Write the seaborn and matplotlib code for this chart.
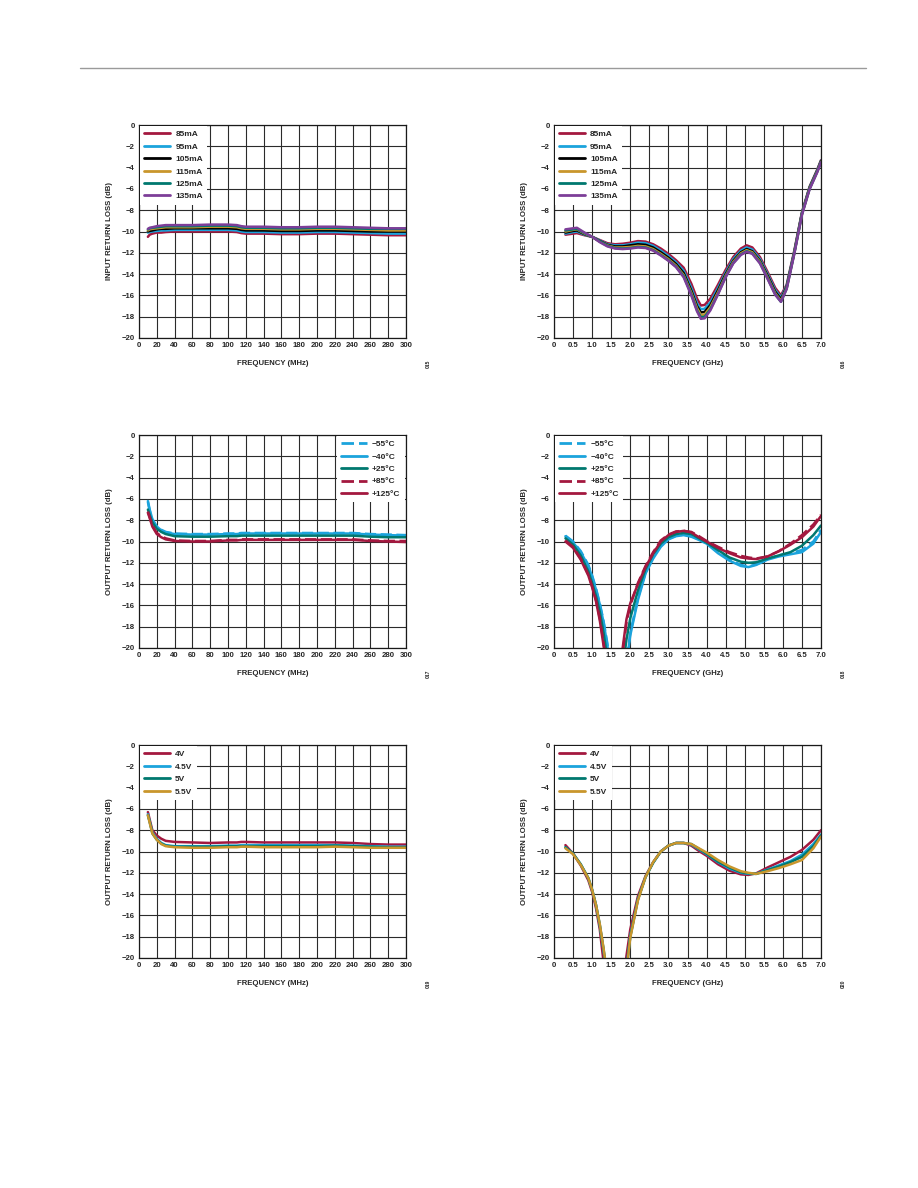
import numpy as np
import pandas as pd
import seaborn as sns
import matplotlib.pyplot as plt
from matplotlib.lines import Line2D

# ---- data ----
MHZ = [10, 12, 15, 20, 25, 30, 40, 60, 80, 100, 110, 115, 120, 140, 160, 180, 200, 220, 240, 260, 280, 300]
GHZ_IN = [0.3, 0.5, 0.6, 0.8, 1.0, 1.2, 1.4, 1.6, 1.8, 2.0, 2.2, 2.4, 2.6, 2.8, 3.0, 3.2, 3.4, 3.6, 3.75,
          3.85, 3.95, 4.1, 4.3, 4.5, 4.7, 4.9, 5.05, 5.2, 5.4, 5.6, 5.8, 5.95, 6.1, 6.3, 6.5, 6.7, 6.9, 7.0]
GHZ_OUT = [0.3, 0.5, 0.7, 0.9, 1.0, 1.1, 1.2, 1.3, 1.4, 1.5, 1.7, 1.8, 1.9, 2.0, 2.2, 2.4, 2.6, 2.8, 3.0,
           3.2, 3.4, 3.6, 3.8, 4.0, 4.3, 4.6, 4.9, 5.1, 5.3, 5.6, 5.9, 6.2, 6.5, 6.8, 7.0]

bias_labels = ['85mA', '95mA', '105mA', '115mA', '125mA', '135mA']
temp_labels = ['\u221255°C', '\u221240°C', '+25°C', '+85°C', '+125°C']
volt_labels = ['4V', '4.5V', '5V', '5.5V']

# input return loss vs bias, MHz
irl_mhz_85 = [-10.5, -10.3, -10.2, -10.1, -10.1, -10.05, -10.0, -10.0, -10.0, -10.0, -10.05, -10.15, -10.2, -10.2, -10.25, -10.25, -10.2, -10.2, -10.25, -10.3, -10.35, -10.35]
irl_mhz_95 = [-10.1, -10.05, -10.0, -9.95, -9.9, -9.9, -9.85, -9.85, -9.85, -9.85, -9.9, -10.0, -10.05, -10.05, -10.1, -10.1, -10.05, -10.05, -10.1, -10.15, -10.2, -10.2]
irl_mhz_105 = [-10.0, -9.95, -9.9, -9.8, -9.75, -9.75, -9.7, -9.7, -9.7, -9.7, -9.75, -9.85, -9.9, -9.9, -9.95, -9.95, -9.9, -9.9, -9.95, -10.0, -10.0, -10.0]
irl_mhz_115 = [-9.9, -9.8, -9.75, -9.7, -9.65, -9.6, -9.6, -9.6, -9.55, -9.55, -9.6, -9.7, -9.75, -9.75, -9.8, -9.8, -9.75, -9.75, -9.8, -9.85, -9.9, -9.9]
irl_mhz_125 = [-9.8, -9.7, -9.65, -9.6, -9.55, -9.5, -9.5, -9.5, -9.45, -9.45, -9.5, -9.6, -9.65, -9.65, -9.7, -9.7, -9.65, -9.65, -9.7, -9.75, -9.75, -9.75]
irl_mhz_135 = [-9.75, -9.65, -9.6, -9.5, -9.45, -9.4, -9.4, -9.4, -9.35, -9.35, -9.4, -9.5, -9.55, -9.55, -9.6, -9.6, -9.55, -9.55, -9.6, -9.65, -9.7, -9.7]

# input return loss vs bias, GHz
irl_ghz_85 = [-10.3, -10.2, -10.15, -10.35, -10.5, -10.8, -11.1, -11.2, -11.15, -11.05, -10.9, -10.95, -11.2, -11.6, -12.1, -12.7, -13.4, -14.9, -16.3, -16.95, -16.9, -16.3, -15.0, -13.6, -12.4, -11.6, -11.3, -11.5, -12.4, -13.8, -15.3, -16.0, -15.0, -11.8, -8.2, -5.8, -4.2, -3.3]
irl_ghz_95 = [-10.2, -10.05, -10.0, -10.3, -10.5, -10.85, -11.2, -11.3, -11.3, -11.2, -11.05, -11.1, -11.35, -11.8, -12.3, -12.9, -13.7, -15.3, -16.75, -17.3, -17.25, -16.65, -15.3, -13.85, -12.6, -11.8, -11.5, -11.7, -12.6, -14.0, -15.5, -16.2, -15.1, -11.9, -8.25, -5.85, -4.25, -3.35]
irl_ghz_105 = [-10.1, -9.95, -9.9, -10.25, -10.5, -10.9, -11.25, -11.4, -11.4, -11.3, -11.2, -11.25, -11.5, -11.95, -12.45, -13.05, -13.9, -15.55, -17.0, -17.6, -17.55, -16.9, -15.5, -14.0, -12.75, -11.95, -11.65, -11.85, -12.75, -14.15, -15.65, -16.35, -15.2, -11.95, -8.3, -5.9, -4.3, -3.4]
irl_ghz_115 = [-10.0, -9.85, -9.8, -10.2, -10.5, -10.95, -11.3, -11.5, -11.5, -11.45, -11.35, -11.4, -11.65, -12.1, -12.6, -13.2, -14.1, -15.75, -17.2, -17.85, -17.8, -17.1, -15.7, -14.15, -12.85, -12.05, -11.75, -11.95, -12.85, -14.3, -15.8, -16.5, -15.3, -12.0, -8.35, -5.95, -4.35, -3.45]
irl_ghz_125 = [-9.9, -9.8, -9.75, -10.15, -10.5, -10.95, -11.35, -11.55, -11.6, -11.55, -11.45, -11.5, -11.75, -12.2, -12.7, -13.3, -14.2, -15.9, -17.4, -18.05, -18.0, -17.3, -15.85, -14.25, -12.95, -12.15, -11.85, -12.05, -12.95, -14.4, -15.9, -16.6, -15.35, -12.05, -8.4, -6.0, -4.4, -3.5]
irl_ghz_135 = [-9.8, -9.7, -9.65, -10.1, -10.5, -11.0, -11.4, -11.6, -11.65, -11.6, -11.5, -11.55, -11.8, -12.25, -12.75, -13.35, -14.3, -16.0, -17.5, -18.2, -18.15, -17.4, -15.9, -14.3, -13.0, -12.2, -11.9, -12.1, -13.0, -14.45, -15.95, -16.6, -15.4, -12.1, -8.45, -6.05, -4.45, -3.5]

# output return loss vs temperature, MHz
orl_mhz_m55 = [-6.3, -7.1, -8.0, -8.6, -8.9, -9.1, -9.25, -9.3, -9.3, -9.25, -9.25, -9.2, -9.2, -9.2, -9.2, -9.2, -9.2, -9.2, -9.2, -9.3, -9.35, -9.4]
orl_mhz_m40 = [-6.2, -7.0, -7.9, -8.6, -8.95, -9.15, -9.3, -9.35, -9.35, -9.3, -9.3, -9.25, -9.25, -9.25, -9.25, -9.25, -9.25, -9.25, -9.25, -9.35, -9.4, -9.45]
orl_mhz_p25 = [-7.0, -7.5, -8.2, -8.8, -9.1, -9.3, -9.5, -9.55, -9.55, -9.5, -9.5, -9.45, -9.45, -9.45, -9.45, -9.45, -9.45, -9.45, -9.45, -9.55, -9.6, -9.6]
orl_mhz_p85 = [-7.2, -7.7, -8.5, -9.2, -9.5, -9.7, -9.9, -9.95, -9.95, -9.85, -9.85, -9.8, -9.8, -9.8, -9.8, -9.8, -9.8, -9.8, -9.8, -9.9, -9.95, -9.95]
orl_mhz_p125 = [-7.3, -7.8, -8.6, -9.3, -9.6, -9.8, -9.95, -10.0, -10.0, -9.9, -9.9, -9.85, -9.85, -9.85, -9.85, -9.85, -9.85, -9.85, -9.85, -9.95, -10.0, -10.05]

# output return loss vs temperature, GHz
orl_ghz_m55 = [-9.45, -10.0, -10.9, -12.2, -13.2, -14.4, -15.8, -17.5, -19.6, -23, -23, -23, -21.2, -18.6, -15.3, -12.9, -11.5, -10.4, -9.75, -9.45, -9.35, -9.5, -9.8, -10.15, -11.0, -11.7, -12.2, -12.35, -12.15, -11.65, -11.3, -11.1, -10.8, -10.0, -8.9]
orl_ghz_m40 = [-9.5, -10.1, -11.0, -12.3, -13.3, -14.5, -15.9, -17.6, -19.8, -23, -23, -23, -21.5, -18.8, -15.5, -13.0, -11.6, -10.5, -9.8, -9.5, -9.4, -9.55, -9.85, -10.2, -11.1, -11.8, -12.3, -12.4, -12.2, -11.7, -11.4, -11.2, -11.0, -10.2, -9.1]
orl_ghz_p25 = [-9.7, -10.3, -11.3, -12.8, -13.9, -15.1, -16.6, -18.6, -21.0, -23, -23, -22, -19.2, -17.2, -14.6, -12.6, -11.2, -10.2, -9.6, -9.3, -9.2, -9.3, -9.7, -10.1, -10.8, -11.5, -11.9, -12.0, -11.95, -11.6, -11.3, -11.0, -10.4, -9.4, -8.5]
orl_ghz_p85 = [-9.9, -10.5, -11.6, -13.1, -14.2, -15.5, -17.2, -19.5, -22, -23, -23, -20.5, -17.6, -16.0, -13.9, -12.3, -11.0, -9.9, -9.35, -9.05, -9.0, -9.1, -9.5, -9.95, -10.5, -11.0, -11.35, -11.5, -11.6, -11.4, -10.9, -10.2, -9.4, -8.4, -7.5]
orl_ghz_p125 = [-10.0, -10.6, -11.7, -13.2, -14.3, -15.6, -17.4, -19.8, -22, -23, -23, -20.0, -17.3, -15.8, -14.0, -12.4, -11.1, -10.0, -9.4, -9.1, -9.0, -9.15, -9.6, -10.0, -10.6, -11.1, -11.5, -11.6, -11.65, -11.4, -10.9, -10.3, -9.6, -8.6, -7.6]

# output return loss vs supply, MHz
orl_mhz_4v = [-6.3, -7.0, -8.0, -8.5, -8.8, -9.0, -9.1, -9.15, -9.2, -9.15, -9.15, -9.1, -9.1, -9.15, -9.15, -9.15, -9.15, -9.15, -9.2, -9.3, -9.35, -9.35]
orl_mhz_45v = [-6.5, -7.2, -8.2, -8.8, -9.2, -9.4, -9.5, -9.5, -9.5, -9.45, -9.45, -9.4, -9.4, -9.4, -9.4, -9.4, -9.4, -9.4, -9.45, -9.5, -9.55, -9.55]
orl_mhz_5v = [-6.6, -7.2, -8.3, -8.9, -9.25, -9.45, -9.55, -9.55, -9.55, -9.5, -9.5, -9.5, -9.5, -9.5, -9.5, -9.5, -9.5, -9.45, -9.5, -9.55, -9.6, -9.6]
orl_mhz_55v = [-6.6, -7.3, -8.3, -8.9, -9.3, -9.5, -9.6, -9.65, -9.65, -9.6, -9.6, -9.55, -9.55, -9.6, -9.6, -9.6, -9.6, -9.55, -9.6, -9.65, -9.65, -9.65]

# output return loss vs supply, GHz
orl_ghz_4v = [-9.4, -10.2, -11.3, -12.7, -13.8, -15.3, -17.3, -20.4, -23, -23, -23, -23, -19.8, -17.3, -14.2, -12.3, -11.0, -10.0, -9.45, -9.2, -9.2, -9.45, -9.95, -10.4, -11.2, -11.8, -12.15, -12.2, -12.05, -11.5, -11.0, -10.5, -9.85, -8.9, -8.0]
orl_ghz_45v = [-9.6, -10.2, -11.2, -12.5, -13.6, -15.0, -16.9, -19.3, -22, -23, -23, -23, -21.0, -17.9, -14.5, -12.4, -11.05, -10.0, -9.45, -9.2, -9.2, -9.35, -9.8, -10.25, -11.0, -11.6, -12.0, -12.1, -12.1, -11.7, -11.3, -10.9, -10.3, -9.3, -8.4]
orl_ghz_5v = [-9.6, -10.2, -11.2, -12.5, -13.6, -15.0, -16.9, -19.2, -22, -23, -23, -23, -21.0, -18.0, -14.5, -12.4, -11.05, -10.0, -9.45, -9.2, -9.2, -9.3, -9.75, -10.2, -10.95, -11.5, -11.95, -12.05, -12.1, -11.75, -11.4, -11.0, -10.5, -9.5, -8.5]
orl_ghz_55v = [-9.7, -10.25, -11.25, -12.5, -13.6, -15.0, -16.8, -19.1, -21.8, -23, -23, -23, -21.2, -18.1, -14.6, -12.4, -11.0, -10.0, -9.45, -9.2, -9.2, -9.3, -9.7, -10.1, -10.8, -11.4, -11.85, -12.0, -12.1, -11.85, -11.55, -11.2, -10.8, -9.7, -8.6]

fig_ids = ['015', '016', '017', '018', '019', '020']

# ---- styling ----
CRIMSON = '#A3183F'
CYAN = '#1BA3DC'
BLACK = '#000000'
GOLD = '#C9962C'
TEAL = '#00786F'
PURPLE = '#7D3E98'

sns.set_theme(style='white')
plt.rcParams['font.family'] = ['Liberation Sans', 'DejaVu Sans']
FS = 5.6
LEG_FS = 6.0
DASH = (0, (4.5, 1.8))

fig = plt.figure(figsize=(9.18, 11.88), dpi=100)

# thin header rule
fig.add_artist(Line2D([80 / 918, 866 / 918], [1 - 68 / 1188] * 2, color='#9a9a9a', lw=1.0))

W = 267 / 918
H = 213 / 1188
lefts = [139 / 918, 554 / 918]
bottoms = [1 - 338 / 1188, 1 - 648 / 1188, 1 - 958 / 1188]


def make_axes(col, row, ghz, ylabel):
    ax = fig.add_axes([lefts[col], bottoms[row], W, H])
    if ghz:
        ax.set_xlim(0, 7)
        ticks = np.arange(0, 7.01, 0.5)
        ax.set_xticks(ticks)
        ax.set_xticklabels(['0'] + ['%.1f' % t for t in ticks[1:]])
    else:
        ax.set_xlim(0, 300)
        ax.set_xticks(np.arange(0, 301, 20))
    ax.set_ylim(-20, 0)
    ax.set_yticks(np.arange(-20, 1, 2))
    ax.grid(True, color='#2b2b2b', lw=0.8)
    ax.tick_params(length=0, pad=3, labelsize=FS)
    for lab in ax.get_xticklabels() + ax.get_yticklabels():
        lab.set_fontweight('bold')
    for sp in ax.spines.values():
        sp.set_color('#1a1a1a')
        sp.set_linewidth(0.9)
    ax.set_axisbelow(True)
    return ax


def draw(ax, x, series, labels, colors, styles, loc, ghz, ylabel):
    handles = []
    for y, c, ls in zip(series, colors, styles):
        df = pd.DataFrame({'x': x, 'y': y})
        sns.lineplot(data=df, x='x', y='y', ax=ax, color=c, lw=1.8, linestyle=ls,
                     estimator=None, sort=False, legend=False)
        handles.append(Line2D([], [], color=c, lw=2.0, linestyle=ls))
    ax.set_xlabel('FREQUENCY (GHz)' if ghz else 'FREQUENCY (MHz)',
                  fontsize=FS, fontweight='bold', labelpad=8)
    ax.set_ylabel(ylabel, fontsize=FS, fontweight='bold', labelpad=6)
    leg = ax.legend(handles, labels, loc=loc, fontsize=LEG_FS, frameon=True, fancybox=False,
                    handlelength=3.1, handletextpad=0.6, labelspacing=0.55,
                    borderpad=0.5, borderaxespad=0.15)
    leg.get_frame().set_edgecolor('none')
    leg.get_frame().set_facecolor('white')
    leg.get_frame().set_alpha(1)
    for t in leg.get_texts():
        t.set_fontweight('bold')


bias_colors = [CRIMSON, CYAN, BLACK, GOLD, TEAL, PURPLE]
bias_styles = ['-'] * 6
temp_colors = [CYAN, CYAN, TEAL, CRIMSON, CRIMSON]
temp_styles = [DASH, '-', '-', DASH, '-']
volt_colors = [CRIMSON, CYAN, TEAL, GOLD]
volt_styles = ['-'] * 4

IRL = 'INPUT RETURN LOSS (dB)'
ORL = 'OUTPUT RETURN LOSS (dB)'

axes = []
ax = make_axes(0, 0, False, IRL)
draw(ax, MHZ, [irl_mhz_85, irl_mhz_95, irl_mhz_105, irl_mhz_115, irl_mhz_125, irl_mhz_135],
     bias_labels, bias_colors, bias_styles, 'upper left', False, IRL)
axes.append(ax)

ax = make_axes(1, 0, True, IRL)
draw(ax, GHZ_IN, [irl_ghz_85, irl_ghz_95, irl_ghz_105, irl_ghz_115, irl_ghz_125, irl_ghz_135],
     bias_labels, bias_colors, bias_styles, 'upper left', True, IRL)
axes.append(ax)

ax = make_axes(0, 1, False, ORL)
draw(ax, MHZ, [orl_mhz_m55, orl_mhz_m40, orl_mhz_p25, orl_mhz_p85, orl_mhz_p125],
     temp_labels, temp_colors, temp_styles, 'upper right', False, ORL)
axes.append(ax)

ax = make_axes(1, 1, True, ORL)
draw(ax, GHZ_OUT, [orl_ghz_m55, orl_ghz_m40, orl_ghz_p25, orl_ghz_p85, orl_ghz_p125],
     temp_labels, temp_colors, temp_styles, 'upper left', True, ORL)
axes.append(ax)

ax = make_axes(0, 2, False, ORL)
draw(ax, MHZ, [orl_mhz_4v, orl_mhz_45v, orl_mhz_5v, orl_mhz_55v],
     volt_labels, volt_colors, volt_styles, 'upper left', False, ORL)
axes.append(ax)

ax = make_axes(1, 2, True, ORL)
draw(ax, GHZ_OUT, [orl_ghz_4v, orl_ghz_45v, orl_ghz_5v, orl_ghz_55v],
     volt_labels, volt_colors, volt_styles, 'upper left', True, ORL)
axes.append(ax)

# tiny rotated figure ids at the lower right of each plot
for ax, fid in zip(axes, fig_ids):
    ax.text(1.085, -0.12, fid, transform=ax.transAxes, rotation=90, fontsize=3.6,
            fontweight='bold', ha='center', va='center')

fig.savefig('out.png', dpi=100)
